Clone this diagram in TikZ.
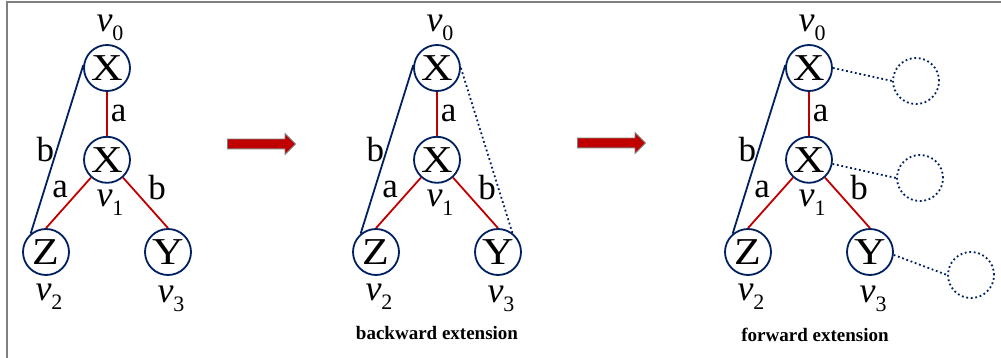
\documentclass[tikz,border=0pt]{standalone}
\usepackage{fontspec}
\setmainfont{Liberation Serif}
\newfontfamily\wideserif[FakeStretch=1.15]{Liberation Serif}
\usetikzlibrary{shapes.arrows, positioning}

\definecolor{navy}{RGB}{0,32,96}
\definecolor{edgered}{RGB}{192,0,0}
\newcommand{\vname}[1]{\textit{v}\raisebox{-0.25em}{\fontsize{22}{22}\selectfont #1}}

\begin{document}
\begin{tikzpicture}[
        x=1pt, y=-1pt,
        node distance=44pt,
        vert/.style={circle, draw=navy, line width=1.8pt, minimum size=46pt, inner sep=0pt, font=\wideserif\fontsize{38}{38}\selectfont},
        ghost/.style={circle, draw=navy, line width=1.8pt, dash pattern=on 1.8pt off 2.7pt, minimum size=46pt, inner sep=0pt},
        tree/.style={edgered, line width=1.8pt},
        back/.style={navy, line width=1.8pt},
        link/.style={navy, line width=1.8pt, dash pattern=on 1.8pt off 2.7pt},
        lbl/.style={text=black, font=\fontsize{35}{35}\selectfont, inner sep=2pt},
        vl/.style={font=\fontsize{36}{36}\selectfont, inner sep=0pt, xshift=3pt},
        bigarrow/.style={single arrow, fill=edgered, draw=gray, line width=0.8pt, minimum height=68pt, inner sep=0pt, inner ysep=4.5pt, single arrow head extend=5.5pt, single arrow tip angle=90},
        caption/.style={font=\fontsize{19}{19}\selectfont\bfseries}
        ]

        \useasboundingbox (0,0) rectangle (1001,358);
        \draw[gray, line width=1.5pt] (7,358) -- (7,2) -- (1001,2);

        % pattern
        \node[vert, label={[vl, label distance=3pt]above:\vname{0}}] (a0) at (107,68) {X};
        \node[vert, below=of a0, label={[vl, label distance=6pt]below:\vname{1}}] (a1) {X};
        \node[vert, label={[vl, label distance=8pt]below:\vname{2}}] (a2) at (46,252) {Z};
        \node[vert, label={[vl, label distance=10pt]below:\vname{3}}] (a3) at (168,252) {Y};
        \draw[tree] (a0) -- node[lbl, right=1pt] {a} (a1);
        \draw[tree] (a1.228) -- node[lbl, pos=0.45, above left] {a} (a2.north);
        \draw[tree] (a1.-48) -- node[lbl, pos=0.5, above right] {b} (a3.north);
        \draw[back] (a0.173) -- node[lbl, left] {b} (a2.130);

        \node[bigarrow] (arr1) at (259,144) {};

        % backward extension
        \begin{scope}[xshift=330pt]
        \node[vert, label={[vl, label distance=3pt]above:\vname{0}}] (b0) at (107,68) {X};
        \node[vert, below=of b0, label={[vl, label distance=6pt]below:\vname{1}}] (b1) {X};
        \node[vert, label={[vl, label distance=8pt]below:\vname{2}}] (b2) at (46,252) {Z};
        \node[vert, label={[vl, label distance=10pt]below:\vname{3}}] (b3) at (168,252) {Y};
        \draw[tree] (b0) -- node[lbl, right=1pt] {a} (b1);
        \draw[tree] (b1.228) -- node[lbl, pos=0.45, above left] {a} (b2.north);
        \draw[tree] (b1.-48) -- node[lbl, pos=0.5, above right] {b} (b3.north);
        \draw[back] (b0.173) -- node[lbl, left] {b} (b2.130);
        \draw[link] (b0.east) -- (b3.53);
        \node[caption] (bcap) at (107,333) {backward extension};
        \end{scope}

        \node[bigarrow] (arr2) at (609,143) {};

        % forward extension
        \begin{scope}[xshift=702pt]
        \node[vert, label={[vl, label distance=3pt]above:\vname{0}}] (c0) at (107,68) {X};
        \node[vert, below=of c0, label={[vl, label distance=6pt]below:\vname{1}}] (c1) {X};
        \node[vert, label={[vl, label distance=8pt]below:\vname{2}}] (c2) at (46,252) {Z};
        \node[vert, label={[vl, label distance=10pt]below:\vname{3}}] (c3) at (168,252) {Y};
        \draw[tree] (c0) -- node[lbl, right=1pt] {a} (c1);
        \draw[tree] (c1.228) -- node[lbl, pos=0.45, above left] {a} (c2.north);
        \draw[tree] (c1.-48) -- node[lbl, pos=0.5, above right] {b} (c3.north);
        \draw[back] (c0.173) -- node[lbl, left] {b} (c2.130);
        \node[ghost] (e0) at (214,81) {};
        \node[ghost] (e1) at (218,178) {};
        \node[ghost] (e3) at (269,275) {};
        \draw[link] (c0.east) -- (e0.west);
        \draw[link] (c1.-10) -- (e1.west);
        \draw[link] (c3.-7) -- (e3.west);
        \node[caption] (fcap) at (113,335) {forward extension};
        \end{scope}
    \end{tikzpicture}
\end{document}
